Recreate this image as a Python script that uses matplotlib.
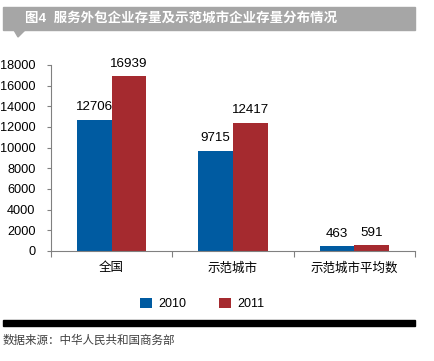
import matplotlib.pyplot as plt
import numpy as np
from matplotlib.patches import Rectangle, Polygon

plt.rcParams['font.family'] = ['Liberation Sans', 'Noto Sans CJK SC', 'DejaVu Sans']

categories = ['全国', '示范城市', '示范城市平均数']
years = ['2010', '2011']
values_2010 = [12706, 9715, 463]
values_2011 = [16939, 12417, 591]
colors = ['#005BA1', '#A52A2F']
title = '图4  服务外包企业存量及示范城市企业存量分布情况'
source = '数据来源：中华人民共和国商务部'

fig = plt.figure(figsize=(4.35, 3.61), dpi=100)
ax = fig.add_axes([0.117, 0.305, 0.837, 0.515])

x = np.arange(len(categories))
w = 0.285
b1 = ax.bar(x - w / 2, values_2010, w, color=colors[0], label=years[0])
b2 = ax.bar(x + w / 2, values_2011, w, color=colors[1], label=years[1])
for bars in (b1, b2):
    for r in bars:
        ax.text(r.get_x() + r.get_width() / 2, r.get_height() + 600, str(int(r.get_height())),
                ha='center', va='bottom', fontsize=9.6)

ax.set_xlim(-0.5, 2.5)
ax.set_ylim(0, 18000)
ax.set_yticks(range(0, 18001, 2000))
ax.set_xticks([-0.5, 0.5, 1.5, 2.5], minor=False)
ax.set_xticklabels([])
ax.set_xticks(x, minor=True)
ax.set_xticklabels(categories, minor=True, fontsize=9)
ax.tick_params(axis='x', which='minor', length=0, pad=8)
ax.tick_params(axis='x', which='major', length=4, color='#808080')
ax.tick_params(axis='y', length=3, color='#808080', labelsize=9.2, pad=8)
for s in ('top', 'right'):
    ax.spines[s].set_visible(False)
for s in ('left', 'bottom'):
    ax.spines[s].set_color('#808080')

fig.legend(handles=[b1, b2], labels=years, loc='center', bbox_to_anchor=(0.465, 0.158),
           ncol=2, frameon=False, fontsize=9, handlelength=0.95, handleheight=0.95,
           columnspacing=2.6, handletextpad=0.5)

# title banner
fig.patches.append(Rectangle((3 / 435, 1 - 30 / 361), 412 / 435, 23 / 361,
                             transform=fig.transFigure, color='#A6A6A6', zorder=0))
fig.patches.append(Polygon([(14 / 435, 1 - 30 / 361), (25 / 435, 1 - 30 / 361), (18 / 435, 1 - 37 / 361)],
                           closed=True, transform=fig.transFigure, color='#A6A6A6', zorder=0))
fig.text(25 / 435, 1 - 18.5 / 361, title, color='white', fontsize=9.7, fontweight='bold',
         va='center', ha='left')

# bottom rule and source
fig.patches.append(Rectangle((3 / 435, 1 - 326 / 361), 412 / 435, 6 / 361,
                             transform=fig.transFigure, color='black', zorder=0))
fig.text(3 / 435, 1 - 341 / 361, source, color='#404040', fontsize=8.3, va='center', ha='left')

fig.savefig('out.png', dpi=100)
